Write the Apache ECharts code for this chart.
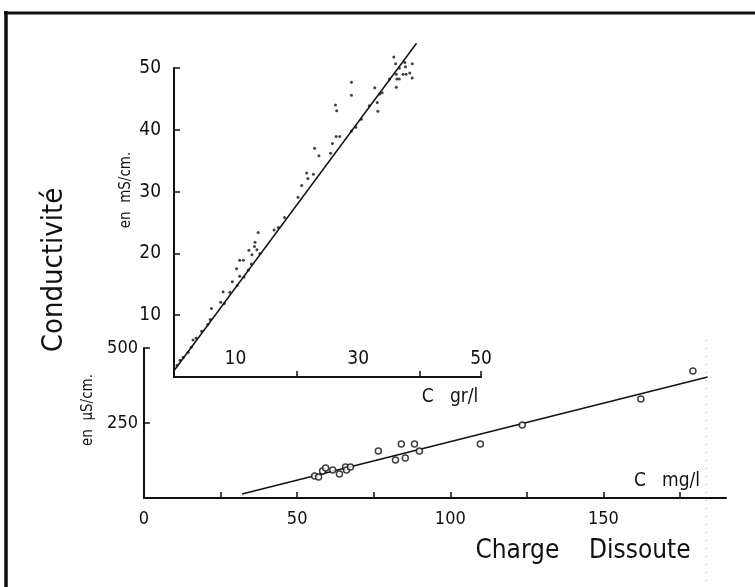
<!DOCTYPE html>
<html>
<head>
<meta charset="utf-8">
<script src="https://cdn.jsdelivr.net/npm/echarts@6/dist/echarts.min.js"></script>
<style>
  html, body { margin: 0; padding: 0; background: #fff; }
  #chart { width: 755px; height: 587px; }
</style>
</head>
<body>
<div id="chart"></div>
<script>
  // encart : C en gr/l, conductivite en mS/cm
  var insetX = [0.5, 1.0, 1.5, 2.3, 2.8, 3.1, 3.6, 4.5, 5.5, 5.9, 6.1, 7.6, 8.0, 8.2, 9.1, 9.5, 10.3, 10.2, 10.7, 11.3,
    10.7, 11.4, 12.1, 12.2, 12.7, 13.2, 13.1, 13.5, 13.7, 14.0, 12.6, 16.3, 17.0, 18.0, 20.2, 20.8, 21.6, 21.8, 22.7, 22.9,
    23.6, 25.5, 25.8, 26.4, 27.0, 26.3, 26.5, 28.9, 28.9, 28.9, 29.6, 30.5, 31.8, 32.7, 33.1, 33.2, 33.5, 33.9, 35.1, 35.8,
    36.1, 36.2, 36.3, 36.2, 36.7, 36.7, 37.3, 37.6, 37.7, 37.8, 38.4, 38.8, 38.8]
  var insetY = [1.9, 2.7, 3.2, 4.0, 4.8, 6.0, 6.3, 7.4, 8.5, 9.3, 11.1, 12.1, 13.8, 11.9, 13.7, 15.4, 14.8, 17.5, 18.9, 18.9,
    16.3, 16.2, 17.3, 20.5, 19.8, 21.8, 21.1, 20.6, 23.4, 20.0, 18.3, 23.8, 24.2, 25.8, 29.1, 31.0, 33.0, 32.1, 32.8, 37.0,
    35.8, 36.2, 37.8, 38.9, 38.9, 44.0, 43.1, 47.7, 45.6, 39.8, 40.4, 41.7, 43.9, 46.8, 44.4, 43.0, 45.8, 46.0, 48.2, 51.8,
    50.7, 49.0, 48.2, 46.9, 48.2, 50.0, 49.0, 50.9, 50.2, 49.0, 49.2, 50.7, 48.4]
  var insetFitX = [0, 39.5]
  var insetFitY = [1, 54]

  // graphe principal : C en mg/l, conductivite en µS/cm
  var mainX = [55.7, 57.0, 58.3, 59.3, 61.6, 63.8, 65.8, 66.1, 67.4, 76.5, 82.1, 84.0, 85.3, 88.3, 89.9, 109.8, 123.5, 162.2, 179.2]
  var mainY = [73, 70, 90, 100, 93, 80, 103, 93, 103, 157, 127, 180, 133, 180, 157, 180, 243, 330, 423]
  var mainFitX = [32, 184]
  var mainFitY = [13, 403]

  var mainXLabels = [0, 50, 100, 150]
  var mainXTicks = [25, 50, 75, 100, 125, 150, 175]
  var mainYLabels = [250, 500]
  var insetXLabels = [10, 30, 50]
  var insetXTicks = [20, 40, 50]
  var insetYLabels = [10, 20, 30, 40, 50]

  var FONT = "'Liberation Sans Narrow', 'DejaVu Sans Condensed', sans-serif"

  function pairs(xs, ys) {
    return xs.map(function(x, i) { return [x, ys[i]] })
  }

  var axisCommon = {
    axisLine: { show: true, onZero: false, lineStyle: { color: '#111', width: 2 } },
    splitLine: { show: false },
    axisLabel: { color: '#111', fontFamily: FONT, fontSize: 18 }
  }

  var chart = echarts.init(document.getElementById('chart'))
  chart.setOption({
    backgroundColor: '#fff',
    animation: false,
    grid: [
      { left: 144, top: 348, width: 582, height: 150 }, // principal
      { left: 174, top: 68, width: 307, height: 309 } // encart
    ],
    xAxis: [{
      gridIndex: 0, type: 'value', min: 0, max: 190,
      axisLine: axisCommon.axisLine, splitLine: axisCommon.splitLine,
      axisTick: { show: true, inside: true, length: 6, customValues: mainXTicks, lineStyle: { color: '#111', width: 1.5 } },
      axisLabel: Object.assign({}, axisCommon.axisLabel, { margin: 12, customValues: mainXLabels })
    }, {
      gridIndex: 1, type: 'value', min: 0, max: 50,
      axisLine: axisCommon.axisLine, splitLine: axisCommon.splitLine,
      axisTick: { show: true, inside: true, length: 6, customValues: insetXTicks, lineStyle: { color: '#111', width: 1.5 } },
      axisLabel: Object.assign({}, axisCommon.axisLabel, { inside: true, margin: 8, fontSize: 19, customValues: insetXLabels })
    }],
    yAxis: [{
      gridIndex: 0, type: 'value', min: 0, max: 500,
      axisLine: axisCommon.axisLine, splitLine: axisCommon.splitLine,
      axisTick: { show: true, inside: true, length: 6, customValues: mainYLabels, lineStyle: { color: '#111', width: 1.5 } },
      axisLabel: Object.assign({}, axisCommon.axisLabel, { margin: 6, customValues: mainYLabels })
    }, {
      gridIndex: 1, type: 'value', min: 0, max: 50,
      axisLine: axisCommon.axisLine, splitLine: axisCommon.splitLine,
      axisTick: { show: true, inside: true, length: 6, customValues: insetYLabels, lineStyle: { color: '#111', width: 1.5 } },
      axisLabel: Object.assign({}, axisCommon.axisLabel, { margin: 13, fontSize: 19, customValues: insetYLabels })
    }],
    series: [{
      name: 'droite mS', type: 'line', xAxisIndex: 1, yAxisIndex: 1,
      data: pairs(insetFitX, insetFitY), clip: false, symbol: 'none',
      lineStyle: { color: '#111', width: 1.5 }
    }, {
      name: 'mS/cm', type: 'scatter', xAxisIndex: 1, yAxisIndex: 1,
      data: pairs(insetX, insetY), clip: false, symbolSize: 3,
      itemStyle: { color: '#111' }
    }, {
      name: 'droite µS', type: 'line', xAxisIndex: 0, yAxisIndex: 0,
      data: pairs(mainFitX, mainFitY), clip: false, symbol: 'none',
      lineStyle: { color: '#111', width: 1.5 }
    }, {
      name: 'µS/cm', type: 'scatter', xAxisIndex: 0, yAxisIndex: 0, z: 5,
      data: pairs(mainX, mainY), clip: false, symbol: 'circle', symbolSize: 6,
      itemStyle: { color: '#fff', borderColor: '#111', borderWidth: 1.5 }
    }],
    graphic: [
      // cadre
      { type: 'line', shape: { x1: 6, y1: 11, x2: 6, y2: 587 }, style: { stroke: '#111', lineWidth: 3.5 } },
      { type: 'line', shape: { x1: 4, y1: 13, x2: 755, y2: 13 }, style: { stroke: '#111', lineWidth: 3 } },
      { type: 'line', shape: { x1: 706, y1: 340, x2: 706, y2: 587 }, style: { stroke: '#999', lineWidth: 1, lineDash: [1, 7] } },
      // titres
      { type: 'text', x: 54, y: 270, rotation: Math.PI / 2, style: { text: 'Conductivité', font: '29px ' + FONT, fill: '#111', align: 'center', verticalAlign: 'middle' } },
      { type: 'text', x: 126, y: 190, rotation: Math.PI / 2, style: { text: 'en  mS/cm.', font: '15px ' + FONT, fill: '#111', align: 'center', verticalAlign: 'middle' } },
      { type: 'text', x: 88, y: 410, rotation: Math.PI / 2, style: { text: 'en  µS/cm.', font: '15px ' + FONT, fill: '#111', align: 'center', verticalAlign: 'middle' } },
      { type: 'text', x: 450, y: 397, style: { text: 'C   gr/l', font: '19px ' + FONT, fill: '#111', align: 'center', verticalAlign: 'middle' } },
      { type: 'text', x: 667, y: 481, style: { text: 'C   mg/l', font: '19px ' + FONT, fill: '#111', align: 'center', verticalAlign: 'middle' } },
      { type: 'text', x: 583, y: 551, style: { text: 'Charge    Dissoute', font: '26px ' + FONT, fill: '#111', align: 'center', verticalAlign: 'middle' } }
    ]
  })
</script>
</body>
</html>
